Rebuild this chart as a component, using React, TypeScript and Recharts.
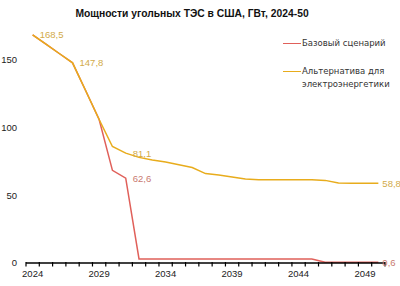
import React from 'react';
import { LineChart, Line, XAxis, YAxis } from 'recharts';

const years = [
  2024, 2025, 2026, 2027, 2028, 2029, 2030, 2031, 2032, 2033, 2034, 2035, 2036, 2037,
  2038, 2039, 2040, 2041, 2042, 2043, 2044, 2045, 2046, 2047, 2048, 2049, 2050,
];
const baseScenario = [
  168.5, 161.6, 154.7, 147.8, 127, 106, 68.4, 62.6, 3, 3, 3, 3, 3, 3,
  3, 3, 3, 3, 3, 3, 3, 3, 0.6, 0.6, 0.6, 0.6, 0.6,
];
const altScenario = [
  168.5, 161.6, 154.7, 147.8, 127, 106, 86, 81.1, 78, 76, 74.5, 72.5, 70.5, 66,
  65, 63.5, 62, 61.5, 61.5, 61.5, 61.5, 61.5, 61, 59, 58.8, 58.8, 58.8,
];
const baseLabelYears = [2031, 2050];
const altLabelYears = [2024, 2027, 2031, 2050];
const xLabelYears = [2024, 2029, 2034, 2039, 2044, 2049];
const yTicks = [0, 50, 100, 150];
const seriesNames = ['Базовый сценарий', 'Альтернатива для электроэнергетики'];
const title = 'Мощности угольных ТЭС в США, ГВт, 2024-50';

const RED = '#e0605a';
const GOLD = '#e8ac1c';
const RED_LABEL = '#c97a70';
const GOLD_LABEL = '#d2aa48';
const FONT = '"Liberation Sans", Arial, sans-serif';

const data = years.map((y, i) => ({ year: y, base: baseScenario[i], alt: altScenario[i] }));

const xTicks: number[] = [];
years.forEach((y) => {
  xTicks.push(y - 0.5);
  if (xLabelYears.includes(y)) xTicks.push(y);
});
xTicks.push(years[years.length - 1] + 0.5);

const fmt = (v: number) => v.toFixed(1).replace('.', ',');

const XTick = (props: any) => {
  const { x, y, payload } = props;
  const v = payload.value as number;
  if (Number.isInteger(v)) {
    return (
      <text x={x} y={y + 13.5} textAnchor="middle" fontSize={9.5} fontFamily={FONT} fill="#222">
        {v}
      </text>
    );
  }
  return <line x1={x} x2={x} y1={y - 1} y2={y + 3.5} stroke="#000" strokeWidth={1.2} />;
};

const makeLabel = (labelYears: number[], color: string) => (props: any) => {
  const { x, y, index, value } = props;
  if (!labelYears.includes(years[index])) return null;
  const last = index === years.length - 1;
  return (
    <text
      key={`l${index}`}
      x={x + (last ? 4 : 7)}
      y={y + 3.5}
      fontSize={9.5}
      fontFamily={FONT}
      fill={color}
    >
      {fmt(value)}
    </text>
  );
};

export default function App() {
  return (
    <div style={{ position: 'absolute', left: 0, top: 0, width: 400, height: 286, background: '#fff' }}>
      <div
        style={{
          position: 'absolute',
          left: 0,
          width: 384,
          top: 8,
          height: 12,
          lineHeight: '12px',
          textAlign: 'center',
          fontFamily: FONT,
          fontWeight: 'bold',
          fontSize: 10.3,
          color: '#111',
          whiteSpace: 'nowrap',
        }}
      >
        {title}
      </div>
      <div style={{ position: 'absolute', left: 0, top: 0 }}>
        <LineChart width={400} height={286} data={data} margin={{ top: 26, right: 15, bottom: 0, left: 0 }}>
          <XAxis
            dataKey="year"
            type="number"
            domain={[2023.5, 2050.5]}
            ticks={xTicks}
            interval={0}
            height={23}
            tickSize={0}
            tickMargin={0}
            tickLine={false}
            axisLine={{ stroke: '#000', strokeWidth: 1.3 }}
            tick={<XTick />}
            allowDataOverflow
          />
          <YAxis
            width={26}
            domain={[0, 175]}
            ticks={yTicks}
            axisLine={false}
            tickLine={false}
            tickMargin={3}
            tick={{ fontSize: 9.5, fontFamily: FONT, fill: '#222' }}
          />
          <Line
            dataKey="base"
            stroke={RED}
            strokeWidth={1.5}
            dot={false}
            isAnimationActive={false}
            label={makeLabel(baseLabelYears, RED_LABEL)}
          />
          <Line
            dataKey="alt"
            stroke={GOLD}
            strokeWidth={1.5}
            dot={false}
            isAnimationActive={false}
            label={makeLabel(altLabelYears, GOLD_LABEL)}
          />
        </LineChart>
      </div>
      <div style={{ position: 'absolute', left: 283, top: 36, fontFamily: '"DejaVu Sans", sans-serif', fontSize: 8.5, color: '#333' }}>
        <div style={{ position: 'absolute', left: 0, top: 7, width: 18, height: 0, borderTop: `1.5px solid ${RED}` }} />
        <div style={{ position: 'absolute', left: 19, top: 1, whiteSpace: 'nowrap', lineHeight: '13px' }}>{seriesNames[0]}</div>
        <div style={{ position: 'absolute', left: 0, top: 35, width: 18, height: 0, borderTop: `1.5px solid ${GOLD}` }} />
        <div style={{ position: 'absolute', left: 19, top: 29, width: 100, lineHeight: '13px' }}>{seriesNames[1]}</div>
      </div>
    </div>
  );
}
